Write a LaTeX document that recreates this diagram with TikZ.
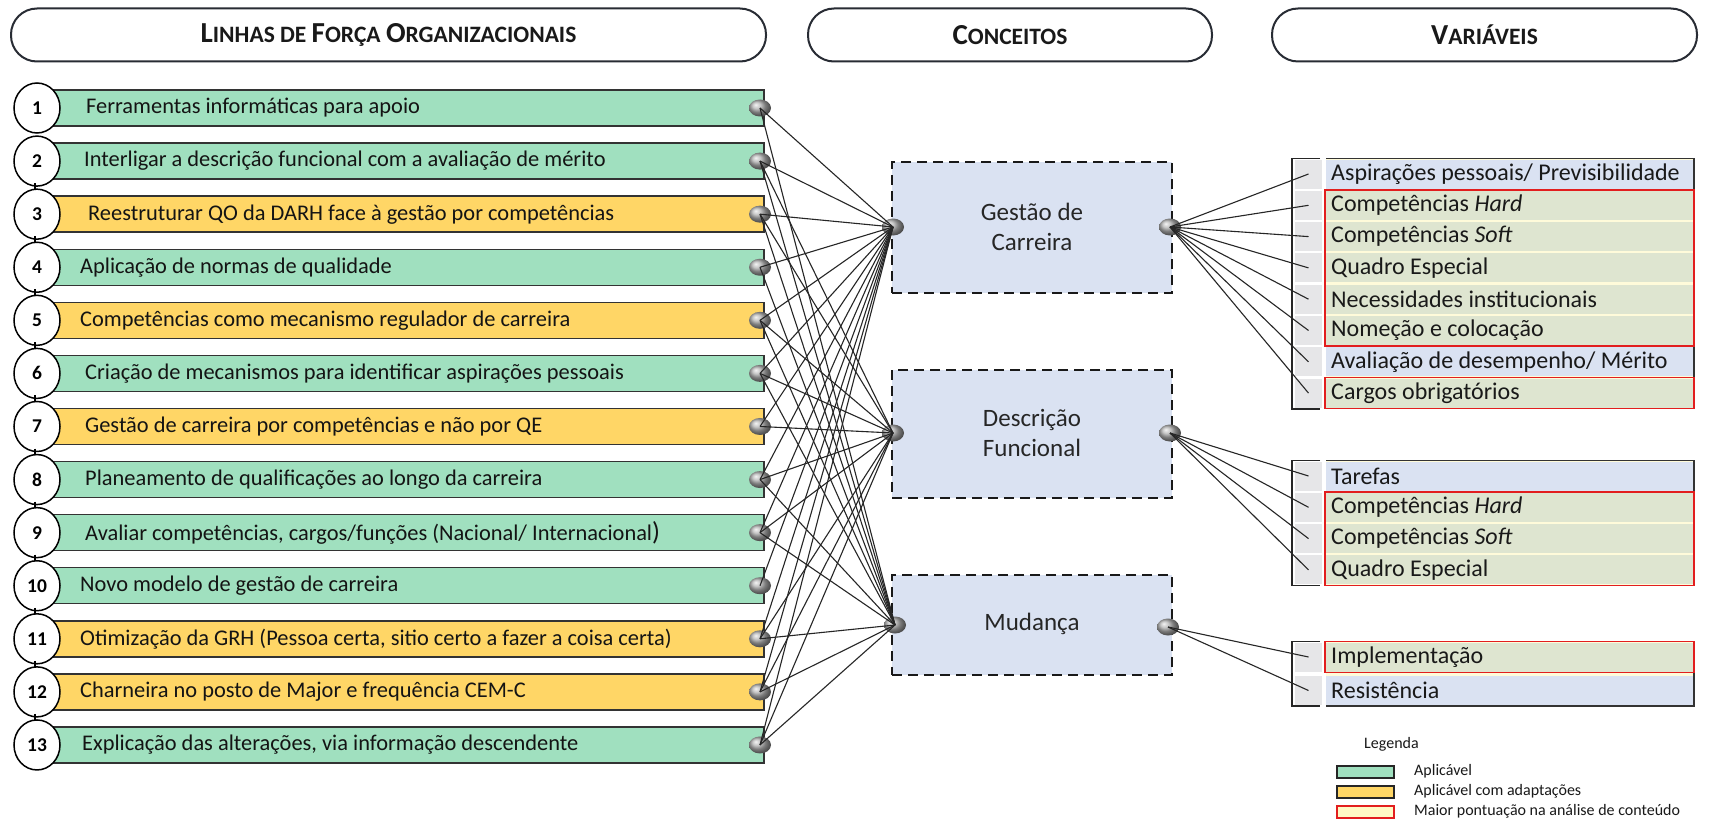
\documentclass[tikz,border=0pt]{standalone}
\usepackage{fontspec}
\setmainfont{Carlito}
\usetikzlibrary{shapes.geometric}
\definecolor{rowgreen}{RGB}{160,224,191}
\definecolor{rowyellow}{RGB}{255,214,102}
\definecolor{conblue}{RGB}{218,226,242}
\definecolor{varblue}{RGB}{218,226,242}
\definecolor{vargreen}{RGB}{222,229,208}
\definecolor{varsep}{RGB}{255,251,218}
\definecolor{cellgray}{RGB}{230,230,232}
\definecolor{redline}{RGB}{226,30,30}
\definecolor{legcream}{RGB}{255,249,196}
\definecolor{pillline}{RGB}{40,44,52}
\newcommand{\hsc}[2]{{\fontsize{29}{32}\selectfont #1}{\fontsize{23.5}{28}\selectfont #2}}
\newcommand{\lfrow}[4]{%
  \pgfmathsetmacro{\ry}{108+53.08*(#1-1)}
  \node[rowbox,fill=#2] (r#1) at (402,\ry) {};
  \node[rowtext] (t#1) at (#3,\ry) {#4};
  \node[numcirc] (c#1) at (37,\ry) {#1};
  \node[sball] (b#1) at (760,\ry) {};
}
\newcommand{\varrow}[4]{%
  \node[graycell] (L#1) at (1308.5,#2) {};
  \node[varcell,fill=#3] (#1) at (1510,#2) {};
  \node[vartext] at (1331,#2) {#4};
}
\newcommand{\vgroup}[2]{%
  \fill[varsep] (1326,#1) rectangle (1694,#2);
}
\newcommand{\vframe}[2]{%
  \draw[black!85,line width=1.8pt] (1320,#1) -- (1292,#1) -- (1292,#2) -- (1320,#2);
  \draw[black!80,line width=1.5pt] (1326,#1) -- (1694,#1) -- (1694,#2) -- (1326,#2);
}
\begin{document}
\begin{tikzpicture}[x=1pt,y=-1pt,
  pill/.style={draw=pillline,line width=2pt,fill=white,rounded corners=26pt,inner sep=0pt,
    font=\bfseries\fontsize{23.5}{28}\selectfont,text=black!90},
  rowbox/.style={draw=black!80,line width=1.4pt,minimum width=724pt,minimum height=36pt,inner sep=0pt},
  rowtext/.style={anchor=west,inner sep=0pt,font=\fontsize{22.4}{26}\selectfont,text=black!92},
  numcirc/.style={ellipse,draw=black,line width=1.5pt,fill=white,minimum width=46pt,minimum height=50pt,
    inner sep=0pt,font=\bfseries\fontsize{19.5}{22}\selectfont},
  sball/.style={ellipse,minimum width=22pt,minimum height=17pt,inner sep=0pt,shading=ball,ball color=gray!60},
  conn/.style={draw=black!85,line width=1.1pt},
  concept/.style={draw=black!90,line width=2.2pt,dash pattern=on 10pt off 6pt,fill=conblue,
    minimum width=280pt,inner sep=0pt},
  ctext/.style={align=center,font=\fontsize{25}{30}\selectfont,text=black!85},
  graycell/.style={fill=cellgray,minimum width=27pt,minimum height=29pt,inner sep=0pt},
  varcell/.style={minimum width=368pt,minimum height=29pt,inner sep=0pt},
  vartext/.style={anchor=west,inner sep=0pt,font=\fontsize{24}{27}\selectfont,text=black!90},
  redbox/.style={draw=redline,line width=1.4pt},
  legtext/.style={anchor=west,inner sep=0pt,font=\fontsize{16}{19}\selectfont,text=black!90},
  swatch/.style={draw=black!85,line width=1.3pt,minimum width=57pt,minimum height=12pt,inner sep=0pt}
]
\useasboundingbox (0,0) rectangle (1728,824);
\fill[white] (0,0) rectangle (1728,824);

% headers
\node[pill,minimum width=755pt,minimum height=53pt] (h1) at (388.5,35) {\hsc{L}{INHAS} \hsc{}{DE} \hsc{F}{ORÇA} \hsc{O}{RGANIZACIONAIS}};
\node[pill,minimum width=404pt,minimum height=53pt] (h2) at (1010,35) {\hsc{C}{ONCEITOS}};
\node[pill,minimum width=425pt,minimum height=53pt] (h3) at (1484.5,35) {\hsc{V}{ARIÁVEIS}};

% rows
\lfrow{1}{rowgreen}{86}{Ferramentas informáticas para apoio}
\lfrow{2}{rowgreen}{84}{Interligar a descrição funcional com a avaliação de mérito}
\lfrow{3}{rowyellow}{88}{Reestruturar QO da DARH face à gestão por competências}
\lfrow{4}{rowgreen}{80}{Aplicação de normas de qualidade}
\lfrow{5}{rowyellow}{80}{Competências como mecanismo regulador de carreira}
\lfrow{6}{rowgreen}{85}{Criação de mecanismos para identificar aspirações pessoais}
\lfrow{7}{rowyellow}{85}{Gestão de carreira por competências e não por QE}
\lfrow{8}{rowgreen}{85}{Planeamento de qualificações ao longo da carreira}
\lfrow{9}{rowgreen}{85}{Avaliar competências, cargos/funções (Nacional/ Internacional{\fontsize{26}{26}\selectfont )}}
\lfrow{10}{rowgreen}{80}{Novo modelo de gestão de carreira}
\lfrow{11}{rowyellow}{80}{Otimização da GRH (Pessoa certa, sitio certo a fazer a coisa certa)}
\lfrow{12}{rowyellow}{80}{Charneira no posto de Major e frequência CEM-C}
\lfrow{13}{rowgreen}{82}{Explicação das alterações, via informação descendente}
\foreach \i in {3,...,13}{
  \pgfmathsetmacro{\yy}{108+53.08*(\i-1)}
  \draw[line width=2.4pt] (35,{\yy-31}) -- (35,{\yy-25});
}

% concepts
\node[concept,minimum height=131pt] (G) at (1032,227.5) {};
\node[ctext] (Gt) at (1032,227) {Gestão de\\Carreira};
\node[concept,minimum height=128pt] (D) at (1032,434) {};
\node[ctext] (Dt) at (1032,433) {Descrição\\Funcional};
\node[concept,minimum height=100pt] (M) at (1032,625) {};
\node[ctext] (Mt) at (1032,624) {Mudança};
\node[sball] (gL) at (893,227) {};
\node[sball] (gR) at (1170,227) {};
\node[sball] (dL) at (893,433) {};
\node[sball] (dR) at (1170,433) {};
\node[sball] (mL) at (895,625) {};
\node[sball] (mR) at (1168,627) {};

% variables
\vgroup{158.5}{408.6}
\varrow{A1}{174}{varblue}{Aspirações pessoais/ Previsibilidade}
\varrow{A2}{205.3}{vargreen}{Competências \textit{Hard}}
\varrow{A3}{236.6}{vargreen}{Competências \textit{Soft}}
\varrow{A4}{267.9}{vargreen}{Quadro Especial}
\varrow{A5}{299.2}{vargreen}{Necessidades institucionais}
\varrow{A6}{330.5}{vargreen}{Nomeção e colocação}
\varrow{A7}{361.8}{varblue}{Avaliação de desempenho/ Mérito}
\varrow{A8}{393.1}{vargreen}{Cargos obrigatórios}
\vframe{158.5}{408.6}
\draw[redbox] (1325,189.8) rectangle (1694,346);
\draw[redbox] (1325,377.6) rectangle (1694,408.6);

\vgroup{460.5}{585.5}
\varrow{B1}{476}{varblue}{Tarefas}
\varrow{B2}{507.3}{vargreen}{Competências \textit{Hard}}
\varrow{B3}{538.6}{vargreen}{Competências \textit{Soft}}
\varrow{B4}{569.9}{vargreen}{Quadro Especial}
\vframe{460.5}{585.5}
\draw[redbox] (1325,491.8) rectangle (1694,585.5);

\vgroup{641.5}{706}
\varrow{C1}{657}{vargreen}{Implementação}
\varrow{C2}{690.5}{varblue}{Resistência}
\vframe{641.5}{706}
\draw[redbox] (1325,641.5) rectangle (1694,672.5);

% connectors rows -> concepts
\foreach \r in {1,...,13}{\draw[conn] (b\r.center) -- (gL.center);}
\foreach \r in {2,3,5,6,7,8,9,11,12,13}{\draw[conn] (b\r.center) -- (dL.center);}
\foreach \r in {1,2,3,4,5,6,8,9,11,12,13}{\draw[conn] (b\r.center) -- (mL.center);}
% connectors concepts -> variables
\foreach \v in {A1,A2,A3,A4,A5,A6,A7,A8}{\draw[conn] (gR.center) -- (L\v.center);}
\foreach \v in {B1,B2,B3,B4}{\draw[conn] (dR.center) -- (L\v.center);}
\foreach \v in {C1,C2}{\draw[conn] (mR.center) -- (L\v.center);}

% legend
\node[legtext] (leg) at (1364,744) {Legenda};
\node[swatch,fill=rowgreen] (s1) at (1365.5,772) {};
\node[swatch,fill=rowyellow] (s2) at (1365.5,792) {};
\node[swatch,draw=redline,fill=legcream] (s3) at (1365.5,812) {};
\node[legtext] (l1) at (1414,771) {Aplicável};
\node[legtext] (l2) at (1414,791) {Aplicável com adaptações};
\node[legtext] (l3) at (1414,811) {Maior pontuação na análise de conteúdo};
\end{tikzpicture}
\end{document}
